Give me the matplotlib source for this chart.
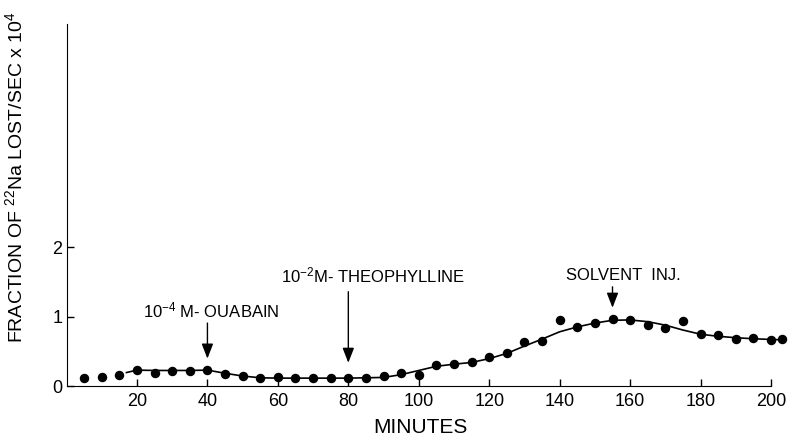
import matplotlib
matplotlib.use("Agg")
import matplotlib.pyplot as plt

plt.rcParams['font.family'] = ['Liberation Sans', 'DejaVu Sans']
plt.rcParams['mathtext.default'] = 'regular'

# measured points (minutes, fraction lost/sec x 1e4)
minutes = [5, 10, 15, 20, 25, 30, 35, 40, 45, 50, 55, 60, 65, 70, 75, 80,
           85, 90, 95, 100, 105, 110, 115, 120, 125, 130, 135, 140, 145, 150,
           155, 160, 165, 170, 175, 180, 185, 190, 195, 200, 203]
fraction = [0.115, 0.14, 0.16, 0.235, 0.19, 0.225, 0.225, 0.235, 0.18, 0.15,
            0.115, 0.135, 0.115, 0.12, 0.115, 0.12, 0.115, 0.15, 0.195, 0.16,
            0.315, 0.325, 0.35, 0.425, 0.475, 0.64, 0.65, 0.95, 0.855, 0.915,
            0.965, 0.955, 0.88, 0.845, 0.94, 0.75, 0.735, 0.685, 0.70, 0.66,
            0.685]

# hand-drawn smooth curve through the points
curve_x = [17, 20, 25, 30, 35, 40, 45, 50, 55, 60, 70, 80, 90, 95, 100, 105,
           110, 115, 120, 125, 130, 135, 140, 145, 150, 155, 160, 165, 170,
           175, 180, 185, 190, 195, 200, 203]
curve_y = [0.20, 0.235, 0.23, 0.23, 0.23, 0.235, 0.19, 0.15, 0.125, 0.12,
           0.12, 0.12, 0.13, 0.17, 0.23, 0.29, 0.32, 0.345, 0.40, 0.475, 0.58,
           0.68, 0.785, 0.855, 0.91, 0.95, 0.955, 0.93, 0.88, 0.81, 0.75,
           0.72, 0.70, 0.685, 0.675, 0.67]

# annotations: label, x, text baseline, arrow start, arrow tip
ann_labels = ['10$^{-4}$ M- OUABAIN', '10$^{-2}$M- THEOPHYLLINE', 'SOLVENT  INJ.']
ann_x = [40, 80, 155]
ann_text_x = [41, 87, 158]
ann_text_y = [0.985, 1.49, 1.53]
ann_start = [0.91, 1.36, 1.43]
ann_tip = [0.40, 0.34, 1.13]

fig = plt.figure(figsize=(7.92, 4.38), dpi=100)
ax = fig.add_axes([0.084, 0.1176, 0.8895, 0.8274])

ax.plot(curve_x, curve_y, color='black', lw=1.2, clip_on=False)
ax.plot(minutes, fraction, 'o', color='black', ms=5.8, clip_on=False)

for lab, x, tx, ty, s, t in zip(ann_labels, ann_x, ann_text_x, ann_text_y, ann_start, ann_tip):
    ax.text(tx, ty, lab, ha='center', va='baseline', fontsize=12)
    ax.annotate('', xy=(x, t), xytext=(x, s),
                arrowprops=dict(arrowstyle='-|>,head_length=0.9,head_width=0.35',
                                color='black', lw=1.0, shrinkA=0, shrinkB=0))

ax.set_xlim(0, 200)
ax.set_ylim(0, 5.2)
ax.set_xticks([20, 40, 60, 80, 100, 120, 140, 160, 180, 200])
ax.set_yticks([0, 1, 2])
ax.tick_params(direction='in', length=5, width=1, labelsize=13)
ax.tick_params(axis='x', pad=5)
ax.tick_params(axis='y', pad=3)
ax.spines['top'].set_visible(False)
ax.spines['right'].set_visible(False)

fig.text(0.531, 0.025, 'MINUTES', ha='center', va='center', fontsize=15)
fig.text(0.019, 0.596, 'FRACTION OF $^{22}$Na LOST/SEC x 10$^{4}$', rotation=90,
         ha='center', va='center', fontsize=14)

fig.savefig('out.png', dpi=100)
